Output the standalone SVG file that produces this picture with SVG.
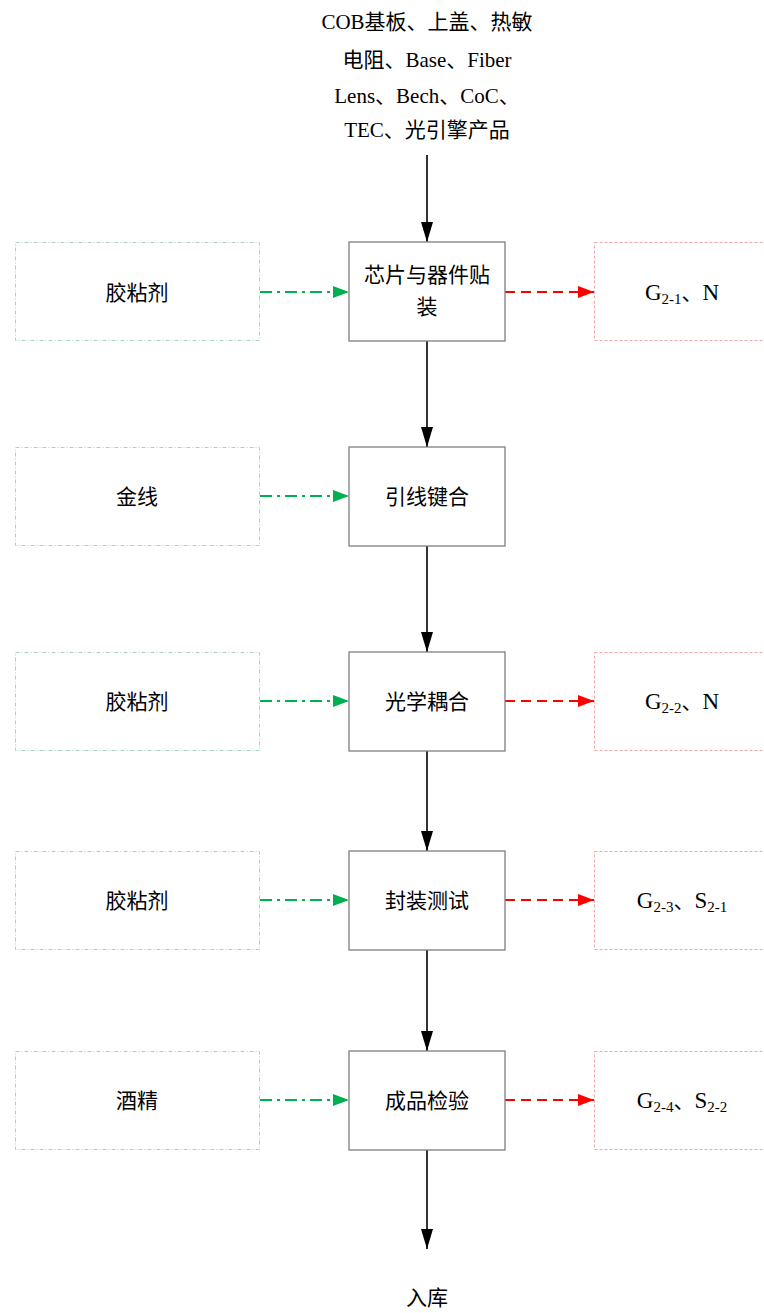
<svg xmlns="http://www.w3.org/2000/svg" width="764" height="1313" viewBox="0 0 764 1313">
<style>
text{font-family:"Liberation Serif","Noto Sans CJK SC",serif;font-size:21px;fill:#000;text-anchor:middle}
.lat{font-size:23px}
.proc{fill:#fff;stroke:#7f7f7f;stroke-width:1.3}
.inp{fill:none;stroke:#a9d2c9;stroke-width:1;stroke-dasharray:4 2 1 2}
.out{fill:none;stroke:#f0a8a8;stroke-width:1;stroke-dasharray:3 2}
.main{stroke:#000;stroke-width:1.6;fill:none}
.g{stroke:#00b050;stroke-width:1.8;fill:none;stroke-dasharray:12 5 3 5}
.r{stroke:#ff0000;stroke-width:1.8;fill:none;stroke-dasharray:10 6}
.sub{font-size:15px}
.dun{font-size:21px}
</style>
<defs>
<marker id="ab" markerWidth="20" markerHeight="12" refX="20" refY="6" orient="auto" markerUnits="userSpaceOnUse" viewBox="0 0 20 12"><path d="M0,0 L20,6 L0,12 Z" fill="#000"/></marker>
<marker id="ag" markerWidth="16" markerHeight="12" refX="16" refY="6" orient="auto" markerUnits="userSpaceOnUse" viewBox="0 0 16 12"><path d="M0,0 L16,6 L0,12 Z" fill="#00b050"/></marker>
<marker id="ar" markerWidth="16" markerHeight="12" refX="16" refY="6" orient="auto" markerUnits="userSpaceOnUse" viewBox="0 0 16 12"><path d="M0,0 L16,6 L0,12 Z" fill="#ff0000"/></marker>
</defs>
<g id="input-top">
<text x="427" y="29">COB基板、上盖、热敏</text>
<text x="427" y="67">电阻、Base、Fiber</text>
<text x="427" y="103">Lens、Bech、CoC、</text>
<text x="427" y="137">TEC、光引擎产品</text>
</g>
<g id="connectors">
<line class="main" x1="427" y1="155" x2="427" y2="242" marker-end="url(#ab)"/>
<line class="main" x1="427" y1="341" x2="427" y2="447" marker-end="url(#ab)"/>
<line class="main" x1="427" y1="546" x2="427" y2="652" marker-end="url(#ab)"/>
<line class="main" x1="427" y1="751" x2="427" y2="851" marker-end="url(#ab)"/>
<line class="main" x1="427" y1="950" x2="427" y2="1051" marker-end="url(#ab)"/>
<line class="main" x1="427" y1="1150" x2="427" y2="1249" marker-end="url(#ab)"/>
<line class="g" x1="260" y1="292" x2="349" y2="292" marker-end="url(#ag)"/>
<line class="g" x1="260" y1="496" x2="349" y2="496" marker-end="url(#ag)"/>
<line class="g" x1="260" y1="701" x2="349" y2="701" marker-end="url(#ag)"/>
<line class="g" x1="260" y1="900" x2="349" y2="900" marker-end="url(#ag)"/>
<line class="g" x1="260" y1="1100" x2="349" y2="1100" marker-end="url(#ag)"/>
<line class="r" x1="505" y1="292" x2="594" y2="292" marker-end="url(#ar)"/>
<line class="r" x1="505" y1="701" x2="594" y2="701" marker-end="url(#ar)"/>
<line class="r" x1="505" y1="900" x2="594" y2="900" marker-end="url(#ar)"/>
<line class="r" x1="505" y1="1100" x2="594" y2="1100" marker-end="url(#ar)"/>
</g>
<g id="p1"><rect class="proc" x="349" y="242" width="156" height="99"/><text x="427" y="282">芯片与器件贴</text><text x="427" y="314">装</text></g>
<g id="p2"><rect class="proc" x="349" y="447" width="156" height="99"/><text x="427" y="504">引线键合</text></g>
<g id="p3"><rect class="proc" x="349" y="652" width="156" height="99"/><text x="427" y="709">光学耦合</text></g>
<g id="p4"><rect class="proc" x="349" y="851" width="156" height="99"/><text x="427" y="908">封装测试</text></g>
<g id="p5"><rect class="proc" x="349" y="1051" width="156" height="99"/><text x="427" y="1108">成品检验</text></g>
<g id="i1"><rect class="inp" x="15.5" y="242.5" width="244" height="98"/><text x="137" y="300">胶粘剂</text></g>
<g id="i2"><rect class="inp" x="15.5" y="447.5" width="244" height="98"/><text x="137" y="504">金线</text></g>
<g id="i3"><rect class="inp" x="15.5" y="652.5" width="244" height="98"/><text x="137" y="709">胶粘剂</text></g>
<g id="i4"><rect class="inp" x="15.5" y="851.5" width="244" height="98"/><text x="137" y="908">胶粘剂</text></g>
<g id="i5"><rect class="inp" x="15.5" y="1051.5" width="244" height="98"/><text x="137" y="1108">酒精</text></g>
<g id="o1"><rect class="out" x="594.5" y="242.5" width="180" height="98"/><text class="lat" x="682" y="300">G<tspan class="sub" dy="4">2-1</tspan><tspan class="dun" dy="-4">、</tspan>N</text></g>
<g id="o2"><rect class="out" x="594.5" y="652.5" width="180" height="98"/><text class="lat" x="682" y="709">G<tspan class="sub" dy="4">2-2</tspan><tspan class="dun" dy="-4">、</tspan>N</text></g>
<g id="o3"><rect class="out" x="594.5" y="851.5" width="180" height="98"/><text class="lat" x="682" y="908">G<tspan class="sub" dy="4">2-3</tspan><tspan class="dun" dy="-4">、</tspan>S<tspan class="sub" dy="4">2-1</tspan></text></g>
<g id="o4"><rect class="out" x="594.5" y="1051.5" width="180" height="98"/><text class="lat" x="682" y="1108">G<tspan class="sub" dy="4">2-4</tspan><tspan class="dun" dy="-4">、</tspan>S<tspan class="sub" dy="4">2-2</tspan></text></g>
<g id="output"><text x="427" y="1305">入库</text></g>
</svg>
